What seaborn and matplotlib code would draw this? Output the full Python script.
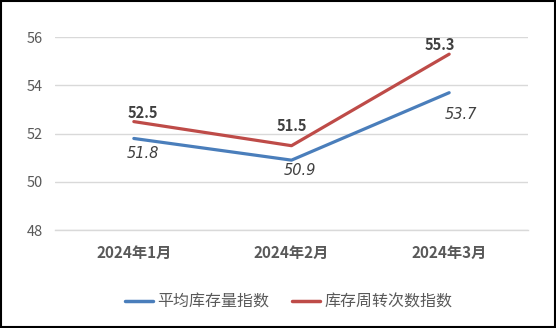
import matplotlib
matplotlib.use("Agg")
import matplotlib.pyplot as plt
import seaborn as sns
import pandas as pd
from matplotlib.patches import Rectangle

# Monthly index values
months = ["2024年1月", "2024年2月", "2024年3月"]
avg_inventory = [51.8, 50.9, 53.7]
turnover = [52.5, 51.5, 55.3]
series_names = ["平均库存量指数", "库存周转次数指数"]
y_ticks = [48, 50, 52, 54, 56]

# Label placement relative to each point, in pixels (dx, dy)
turnover_label_offsets = [(9, 9), (0, 20), (-9, 9)]
avg_label_offsets = [(9, -15), (8, -10), (12, -22)]

sns.set_theme(style="white")
plt.rcParams["font.family"] = ["Noto Sans CJK SC", "DejaVu Sans"]

df = pd.DataFrame({
    "month": months * 2,
    "value": avg_inventory + turnover,
    "series": [series_names[0]] * 3 + [series_names[1]] * 3,
})
df["pos"] = [months.index(m) for m in df["month"]]

colors = {series_names[0]: "#4A7EBB", series_names[1]: "#BE4B48"}
text_color = "#595959"
label_color = "#404040"

fig = plt.figure(figsize=(5.56, 3.28), dpi=100)
ax = fig.add_axes([55 / 556, 1 - 230 / 328, 473 / 556, (230 - 37.3) / 328])

sns.lineplot(data=df, x="pos", y="value", hue="series", palette=colors,
             linewidth=2.3, ax=ax, legend=True)

ax.set_xlim(-0.5, 2.5)
ax.set_ylim(48, 56)
ax.set_yticks(y_ticks)
ax.set_yticklabels([str(t) for t in y_ticks], color=text_color, fontsize=10.5)
ax.set_xticks(range(len(months)))
ax.set_xticklabels(months, color=text_color, fontsize=11, fontweight="bold")
ax.tick_params(axis="y", length=0, pad=8.5)
ax.tick_params(axis="x", length=0, pad=10.5)

# Category separators on the baseline
ax.set_xticks([-0.5, 0.5, 1.5, 2.5], minor=True)
ax.tick_params(axis="x", which="minor", length=6, width=1, color="#D9D9D9", direction="out")

ax.grid(axis="y", color="#D9D9D9", linewidth=1)
ax.set_axisbelow(True)
for side in ["top", "right", "left"]:
    ax.spines[side].set_visible(False)
ax.spines["bottom"].set_color("#D9D9D9")
ax.spines["bottom"].set_linewidth(1)
ax.set_xlabel("")
ax.set_ylabel("")

# Value labels: turnover above in bold, average inventory below in italic
for i, v in enumerate(turnover):
    ax.annotate(f"{v:.1f}", (i, v), xytext=turnover_label_offsets[i],
                textcoords="offset pixels", ha="center", va="center",
                fontsize=10.5, fontweight="bold", color=label_color)
for i, v in enumerate(avg_inventory):
    ax.annotate(f"{v:.1f}", (i, v), xytext=avg_label_offsets[i],
                textcoords="offset pixels", ha="center", va="center",
                fontsize=10.5, fontstyle="italic", color=label_color,
                family=["DejaVu Sans"])

leg = ax.legend(loc="center", bbox_to_anchor=(288.5 / 556, 1 - 302 / 328),
                bbox_transform=fig.transFigure, ncol=2, frameon=False,
                fontsize=11.5, handlelength=1.75, columnspacing=1.4,
                handletextpad=0.3, borderpad=0, borderaxespad=0)
for t in leg.get_texts():
    t.set_color(text_color)
for h in leg.get_lines():
    h.set_linewidth(2.5)

fig.patches.append(Rectangle((0.001, 0.002), 0.997, 0.995, transform=fig.transFigure,
                             fill=False, edgecolor="black", linewidth=1.5))

fig.savefig("out.png", dpi=100)
